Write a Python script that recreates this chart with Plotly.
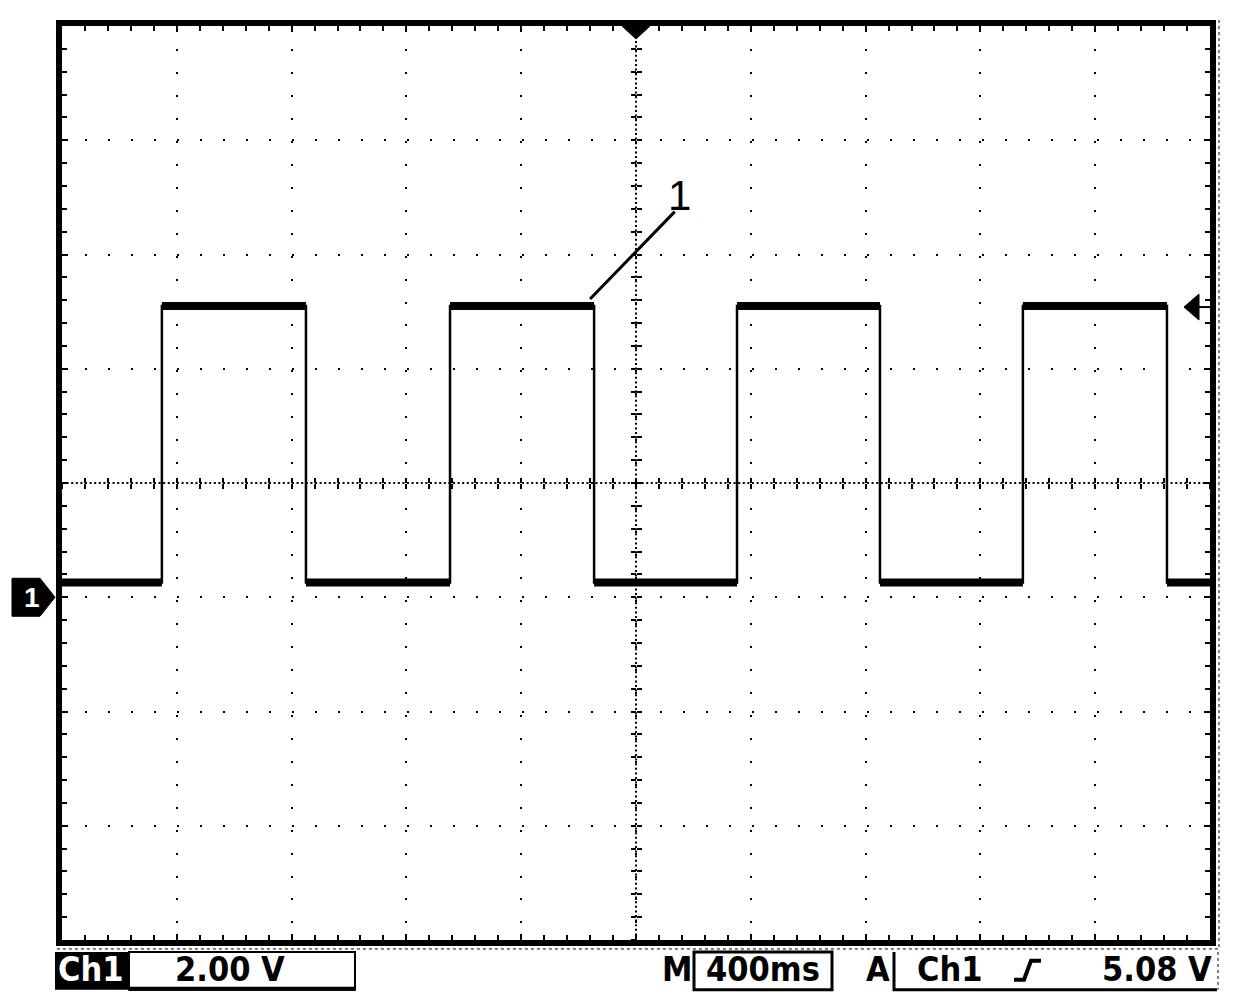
import plotly.graph_objects as go

# ---------------- data (read from the oscilloscope capture) ----------------
seg_start_ms = [-2000, -1652, -1150, -648, -146, 352, 850, 1348, 1850]
seg_end_ms = [-1652, -1150, -648, -146, 352, 850, 1348, 1850, 2000]
seg_volts = [0.26, 5.10, 0.26, 5.10, 0.26, 5.10, 0.26, 5.10, 0.26]

time_per_div_ms = 400
volts_per_div = 2.0
n_hdiv, n_vdiv = 10, 8
ground_v = 0.0
trigger_level_v = 5.08
trigger_time_ms = 0

channel_label = "Ch1"
volts_label = "2.00 V"
time_label = "400ms"
trig_label = "5.08 V"
callout_label = "1"

# ---------------- geometry helpers ----------------
OFF = 8                      # page body margin
W, H = 1248 - 2 * OFF, 1008 - 2 * OFF
L, T = 62 - OFF, 20 - OFF    # plot area origin inside the figure
PW, PH = 1148, 920


def fx(px):                  # page pixel x -> paper fraction
    return (px - OFF - L) / PW


def fy(py):                  # page pixel y -> paper fraction
    return (T + PH - (py - OFF)) / PH


x_range = [-n_hdiv / 2 * time_per_div_ms, n_hdiv / 2 * time_per_div_ms]
y_center = ground_v + volts_per_div
y_range = [y_center - n_vdiv / 2 * volts_per_div, y_center + n_vdiv / 2 * volts_per_div]

# thin full waveform (includes vertical edges)
wx, wy = [], []
for s, e, v in zip(seg_start_ms, seg_end_ms, seg_volts):
    wx += [s, e]
    wy += [v, v]

# thick flat levels
lx, ly = [], []
for s, e, v in zip(seg_start_ms, seg_end_ms, seg_volts):
    lx += [s, e, None]
    ly += [v, v, None]

fig = go.Figure()
fig.add_trace(go.Scatter(x=wx, y=wy, mode="lines", line=dict(color="black", width=2.5),
                         hoverinfo="skip", showlegend=False))
fig.add_trace(go.Scatter(x=lx, y=ly, mode="lines", line=dict(color="black", width=8),
                         hoverinfo="skip", showlegend=False))
# empty traces so the centre graticule axes get drawn
fig.add_trace(go.Scatter(x=[], y=[], xaxis="x2", yaxis="y2", showlegend=False, hoverinfo="skip"))
fig.add_trace(go.Scatter(x=[], y=[], xaxis="x3", yaxis="y3", showlegend=False, hoverinfo="skip"))

minor_x = time_per_div_ms / 5
minor_y = volts_per_div / 5

axis_common = dict(showticklabels=False, zeroline=False, showline=True, linecolor="black",
                   linewidth=6, mirror="allticks", ticks="inside", ticklen=6, tickwidth=2,
                   tickcolor="black", showgrid=True, gridcolor="black", gridwidth=2)

fig.update_layout(
    width=W, height=H, autosize=False,
    margin=dict(l=L, r=W - L - PW, t=T, b=H - T - PH, pad=0),
    paper_bgcolor="white", plot_bgcolor="white",
    showlegend=False,
    xaxis=dict(range=x_range, dtick=time_per_div_ms, tick0=0, griddash="2px,20.96px",
               minor=dict(dtick=minor_x, ticks="inside", ticklen=5, tickwidth=2,
                          tickcolor="black", showgrid=False),
               **axis_common),
    yaxis=dict(range=y_range, dtick=volts_per_div, tick0=0, griddash="2px,21px",
               minor=dict(dtick=minor_y, ticks="inside", ticklen=5, tickwidth=2,
                          tickcolor="black", showgrid=False),
               **axis_common),
)

center_common = dict(showticklabels=False, zeroline=False, showline=False, showgrid=False,
                     ticklen=5, tickwidth=2, tickcolor="black")
fig.update_layout(
    xaxis2=dict(overlaying="x", anchor="free", position=0.5, range=x_range, dtick=minor_x,
                tick0=0, ticks="outside", **center_common),
    xaxis3=dict(overlaying="x", anchor="free", position=0.5, range=x_range, dtick=minor_x,
                tick0=0, ticks="inside", **center_common),
    yaxis2=dict(overlaying="y", anchor="free", position=0.5, range=y_range, dtick=minor_y,
                tick0=0, ticks="outside", **center_common),
    yaxis3=dict(overlaying="y", anchor="free", position=0.5, range=y_range, dtick=minor_y,
                tick0=0, ticks="inside", **center_common),
)

shapes = []
# dense dotted centre lines
shapes.append(dict(type="line", xref="x", yref="paper", x0=trigger_time_ms, x1=trigger_time_ms,
                   y0=0, y1=1, line=dict(color="black", width=2, dash="2px,2.6px")))
shapes.append(dict(type="line", xref="paper", yref="y", x0=0, x1=1, y0=y_center, y1=y_center,
                   line=dict(color="black", width=2, dash="2px,2.6px")))
# callout leader line
shapes.append(dict(type="line", xref="x", yref="y", x0=-160, y0=5.22, x1=135, y1=6.75,
                   line=dict(color="black", width=3)))
# ground marker (channel 1 reference)
shapes.append(dict(type="path", xref="paper", yref="y", xsizemode="pixel", ysizemode="pixel",
                   xanchor=0, yanchor=ground_v,
                   path="M-50,-19 L-22,-19 L-7,0 L-22,19 L-50,19 Z",
                   fillcolor="black", line=dict(color="black", width=1)))
# trigger level arrow
shapes.append(dict(type="path", xref="paper", yref="y", xsizemode="pixel", ysizemode="pixel",
                   xanchor=1, yanchor=trigger_level_v,
                   path="M-26,0 L-11,13 L-11,-13 Z",
                   fillcolor="black", line=dict(color="black", width=1)))
shapes.append(dict(type="path", xref="paper", yref="y", xsizemode="pixel", ysizemode="pixel",
                   xanchor=1, yanchor=trigger_level_v, path="M-12,0 L0,0",
                   line=dict(color="black", width=2)))
# trigger position marker at top
shapes.append(dict(type="path", xref="x", yref="paper", xsizemode="pixel", ysizemode="pixel",
                   xanchor=trigger_time_ms, yanchor=1, path="M-14,0 L14,0 L0,-13 Z",
                   fillcolor="black", line=dict(color="black", width=1)))
# shadow dotted outline
shapes.append(dict(type="path", xref="paper", yref="paper",
                   path=f"M{fx(1219)},{fy(14)} L{fx(1219)},{fy(949)} L{fx(56)},{fy(949)}",
                   line=dict(color="black", width=1, dash="dot")))

# bottom status bar
bar_top, bar_bot = 952, 990
shapes.append(dict(type="rect", xref="paper", yref="paper", x0=fx(55), x1=fx(128),
                   y0=fy(bar_bot), y1=fy(bar_top), fillcolor="black", line=dict(width=0)))
shapes.append(dict(type="rect", xref="paper", yref="paper", x0=fx(129), x1=fx(355),
                   y0=fy(bar_bot), y1=fy(bar_top), fillcolor="white",
                   line=dict(color="black", width=2)))
shapes.append(dict(type="line", xref="paper", yref="paper", x0=fx(129), x1=fx(355),
                   y0=fy(bar_bot - 1), y1=fy(bar_bot - 1), line=dict(color="black", width=4)))
shapes.append(dict(type="rect", xref="paper", yref="paper", x0=fx(694), x1=fx(832),
                   y0=fy(bar_bot), y1=fy(bar_top), fillcolor="white",
                   line=dict(color="black", width=3)))
shapes.append(dict(type="path", xref="paper", yref="paper",
                   path=f"M{fx(894)},{fy(bar_top)} L{fx(894)},{fy(bar_bot)} L{fx(1217)},{fy(bar_bot)}",
                   line=dict(color="black", width=3)))
shapes.append(dict(type="line", xref="paper", yref="paper", x0=fx(1218), x1=fx(1218),
                   y0=fy(bar_top), y1=fy(bar_bot), line=dict(color="black", width=1, dash="dot")))
# rising edge trigger symbol
shapes.append(dict(type="path", xref="paper", yref="paper",
                   path=(f"M{fx(1014)},{fy(980)} L{fx(1024)},{fy(980)} "
                         f"L{fx(1031)},{fy(961)} L{fx(1041)},{fy(961)}"),
                   line=dict(color="black", width=4)))
fig.update_layout(shapes=shapes)

bar_font = "DejaVu Sans Condensed, Liberation Sans Narrow, Arial Narrow, Liberation Sans"
text_y = fy(969)


def bar_text(txt, xpx, color="black"):
    return dict(text=f"<b>{txt}</b>", xref="paper", yref="paper", x=fx(xpx), y=text_y,
                xanchor="center", yanchor="middle", showarrow=False,
                font=dict(family=bar_font, size=34, color=color))


annotations = [
    bar_text(channel_label, 91, "white"),
    bar_text(volts_label, 230),
    bar_text("M", 677),
    bar_text(time_label, 763),
    bar_text("A", 878),
    bar_text(channel_label, 950),
    bar_text(trig_label, 1157),
    dict(text=callout_label, xref="x", yref="y", x=153, y=7.03, xanchor="center",
         yanchor="middle", showarrow=False,
         font=dict(family="Liberation Sans", size=42, color="black")),
    dict(text="<b>1</b>", xref="paper", yref="y", x=0, xshift=-30, y=ground_v,
         xanchor="center", yanchor="middle", showarrow=False,
         font=dict(family="Liberation Sans", size=28, color="white")),
]
fig.update_layout(annotations=annotations)

fig.write_html("out.html")
